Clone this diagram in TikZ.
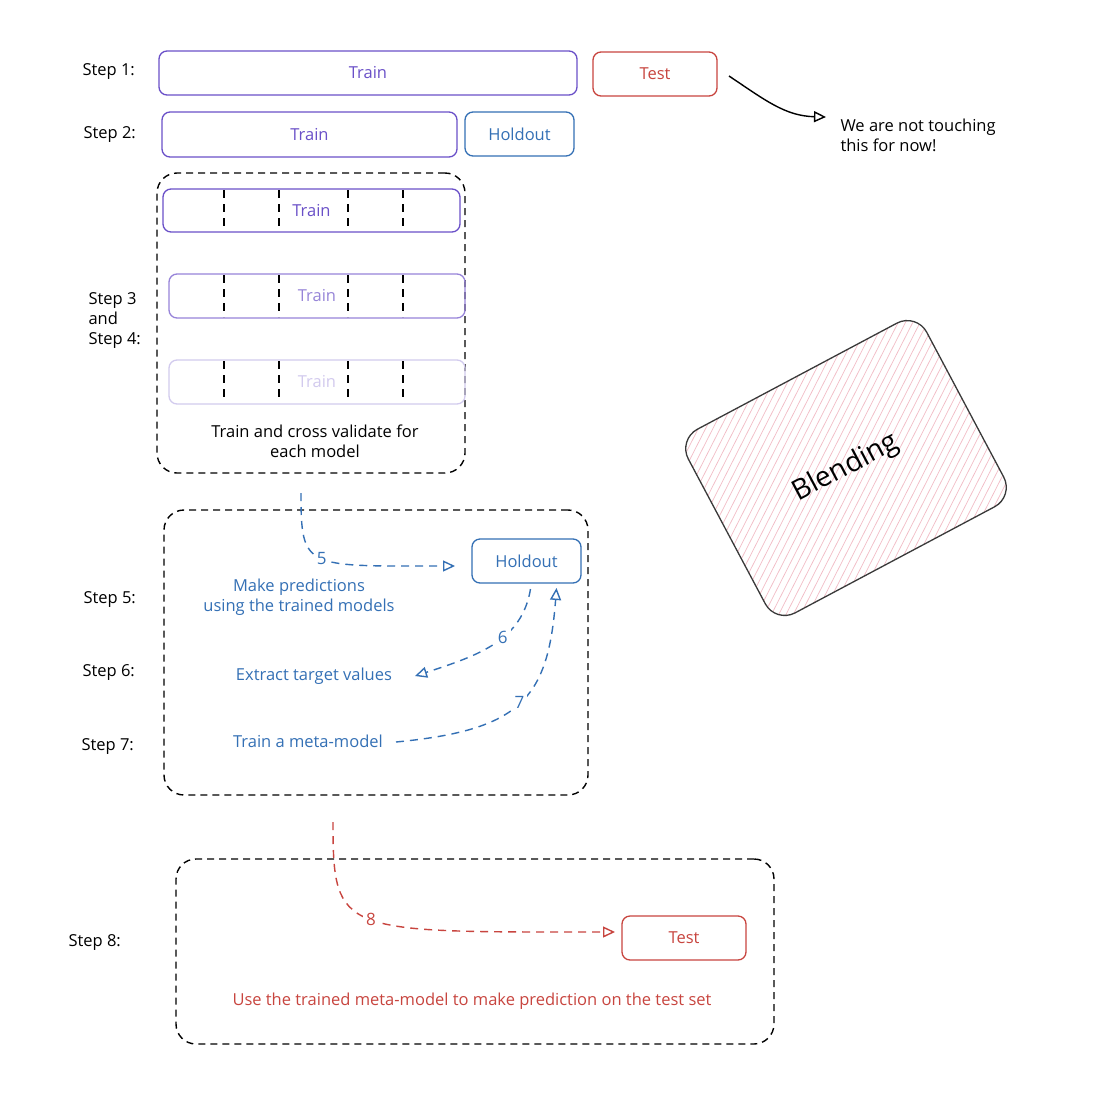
\documentclass[tikz,border=0pt]{standalone}
\usepackage{fontspec}
\setmainfont{Open Sans}
\usetikzlibrary{arrows.meta,calc}
\definecolor{cpurple}{HTML}{6A50C8}
\definecolor{cred}{HTML}{C8453F}
\definecolor{cblue}{HTML}{3470B5}
\definecolor{cpink}{HTML}{F2BCC6}
\definecolor{cdark}{HTML}{3A3A3A}

\begin{document}
\begin{tikzpicture}[x=1pt,y=-1pt,
  every node/.style={font=\fontsize{16.5}{20}\selectfont},
  box/.style={draw, rounded corners=8pt, line width=1.3pt, inner sep=0pt, outer sep=0pt},
  group/.style={draw=black, rounded corners=20pt, line width=1.4pt, dash pattern=on 7pt off 5pt, inner sep=0pt, outer sep=0pt},
  steplbl/.style={anchor=west, align=left, text=black},
  foldline/.style={draw=black, line width=1.3pt, dash pattern=on 8pt off 6pt},
  conn/.style={-{Triangle[open,length=12pt,width=11pt]}, line width=1.4pt},
  dashconn/.style={conn, dash pattern=on 8pt off 6pt},
  numlbl/.style={fill=white, inner sep=3pt, font=\fontsize{17}{20}\selectfont}
]
\useasboundingbox (0,0) rectangle (1094,1112);
\fill[white] (0,0) rectangle (1094,1112);

% step labels
\node[steplbl] (s1) at (79,72) {Step 1:};
\node[steplbl] (s2) at (80,135) {Step 2:};
\node[steplbl] (s34) at (85,321) {Step 3\\and\\Step 4:};
\node[steplbl] (s5) at (80,599) {Step 5:};
\node[steplbl] (s6) at (79,672) {Step 6:};
\node[steplbl] (s7) at (78,746) {Step 7:};
\node[steplbl] (s8) at (65,942) {Step 8:};

% steps 1 and 2: splits
\node[box, draw=cpurple, text=cpurple, minimum width=418pt, minimum height=44pt] (train1) at (368,73) {Train};
\node[box, draw=cred, text=cred, minimum width=124pt, minimum height=44pt] (test1) at (655,74) {Test};
\node[box, draw=cpurple, text=cpurple, minimum width=295pt, minimum height=45pt] (train2) at (309.5,134.5) {Train};
\node[box, draw=cblue, text=cblue, minimum width=109pt, minimum height=44pt] (hold1) at (519.5,134) {Holdout};

\node[anchor=west, align=left] (note) at (837,135) {We are not touching\\this for now!};
\coordinate (noteend) at (826,117);
\draw[conn] ([shift={(12,2)}]test1.east) .. controls (765,100) and (785,116) .. (noteend);

% steps 3 and 4: cross validation
\node[group, minimum width=308pt, minimum height=300pt] (c1) at (311,323) {};
\node[box, draw=cpurple, text=cpurple, minimum width=297pt, minimum height=43pt] (row1) at (311.5,210.5) {Train};
\node[box, draw=cpurple!70, text=cpurple!70, minimum width=296pt, minimum height=44pt] (row2) at (317,296) {Train};
\node[box, draw=cpurple!30, text=cpurple!30, minimum width=296pt, minimum height=44pt] (row3) at (317,382) {Train};
\foreach \x in {224,279,348,403} {
  \draw[foldline] (\x,190) -- (\x,231);
  \draw[foldline] (\x,275) -- (\x,317);
  \draw[foldline] (\x,361) -- (\x,402);
}
\node[align=center] (cvtxt) at (315,441) {Train and cross validate for\\each model};

% steps 5 to 7
\node[group, minimum width=424pt, minimum height=285pt] (c2) at (376,652.5) {};
\node[box, draw=cblue, text=cblue, minimum width=109pt, minimum height=44pt] (hold2) at (526.5,561) {Holdout};
\node[align=center, text=cblue] (pred) at (299,597) {Make predictions\\using the trained models};
\node[text=cblue] (extract) at (314,676) {Extract target values};
\node[text=cblue] (meta) at (308,741) {Train a meta-model};

\coordinate (a5) at ($(c1.south)+(-10,20)$);
\draw[dashconn, cblue] (a5) .. controls (301,570) and (305,566) .. ([shift={(-17,5)}]hold2.west)
  node[numlbl, pos=0.5, text=cblue] {5};
\draw[dashconn, cblue] ([shift={(4,6)}]hold2.south) .. controls (522,640) and (480,655) .. (415,676)
  node[numlbl, pos=0.42, text=cblue] {6};
\draw[dashconn, cblue] (396,742) .. controls (520,730) and (548,700) .. ([shift={(30,5)}]hold2.south)
  node[numlbl, pos=0.5, text=cblue] {7};

% step 8
\node[group, minimum width=598pt, minimum height=185pt] (c3) at (475,951.5) {};
\node[box, draw=cred, text=cred, minimum width=124pt, minimum height=44pt] (test2) at (684,938) {Test};
\node[text=cred] (usetxt) at (472,1001) {Use the trained meta-model to make prediction on the test set};
\coordinate (a8) at ($(c2.south)+(-43,27)$);
\draw[dashconn, cred] (a8) .. controls (333,935) and (340,932) .. ([shift={(-7,-6)}]test2.west)
  node[numlbl, pos=0.5, text=cred] {8};

% blending tag: hatched fill, then the outlined tag with its text
\begin{scope}[shift={(846,468)}, rotate=28]
  \clip[rounded corners=22pt] (-135,-104) rectangle (135,104);
  \foreach \k in {-28,...,28}
    \draw[cpink, line width=0.7pt] ({\k*6.5*0.574-200*0.819},{\k*6.5*0.819+200*0.574}) -- ({\k*6.5*0.574+200*0.819},{\k*6.5*0.819-200*0.574});
\end{scope}
\node[draw=cdark, line width=1.3pt, rounded corners=22pt, minimum width=270pt, minimum height=208pt, inner sep=0pt, rotate=28, font=\fontsize{28}{32}\selectfont] (blend) at (846,468) {Blending};
\end{tikzpicture}
\end{document}
